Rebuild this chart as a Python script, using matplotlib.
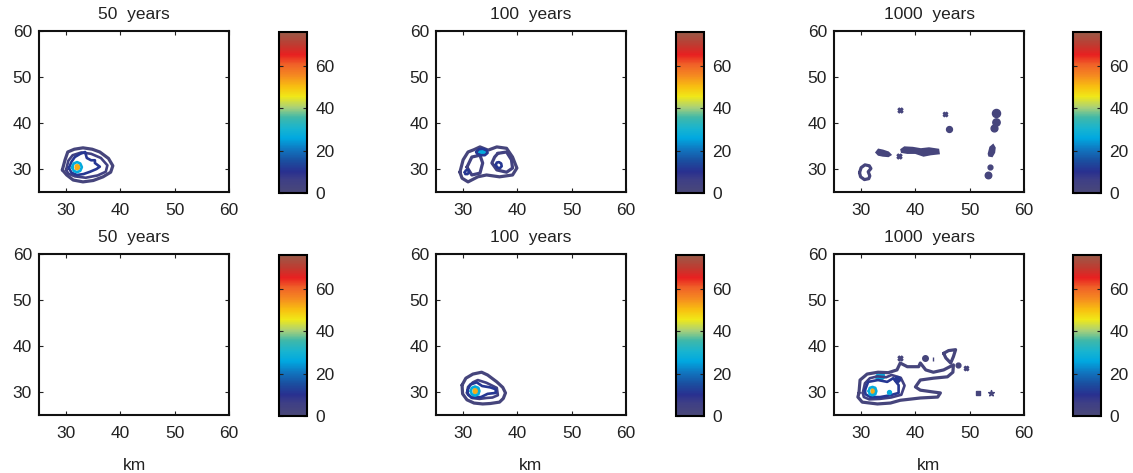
import numpy as np
import matplotlib
matplotlib.use("Agg")
import matplotlib.pyplot as plt
from matplotlib.colors import LinearSegmentedColormap, Normalize
from matplotlib.cm import ScalarMappable

plt.rcParams['font.family'] = ['Liberation Sans', 'DejaVu Sans']

# ---- data -------------------------------------------------------------------
titles = ["50  years", "100  years", "1000  years",
          "50  years", "100  years", "1000  years"]
axis_ticks = [30, 40, 50, 60]
cbar_ticks = [0, 20, 40, 60]
vmin, vmax = 0, 76

# contour lines: (level, x vertices, y vertices)  [km]
lines_top_50 = [
    (2, [29.3, 29.8, 30.3, 31.5, 33.1, 34.8, 36.2, 37.8, 38.6, 38.2, 36.8, 35.0, 33.1, 31.3, 30.1, 29.3],
        [29.8, 32.0, 33.7, 34.3, 34.6, 34.3, 33.7, 32.3, 30.7, 29.3, 28.3, 27.5, 27.2, 27.6, 28.7, 29.8]),
    (5, [30.0, 30.4, 31.2, 32.8, 34.6, 36.4, 37.6, 37.3, 35.8, 33.6, 31.6, 30.4, 30.0],
        [29.8, 31.8, 33.0, 33.6, 33.3, 32.4, 30.8, 29.4, 28.6, 28.1, 28.4, 29.0, 29.8]),
    (11, [30.5, 31.0, 31.6, 32.6, 33.5, 33.8, 34.6, 35.3, 35.3, 36.2, 35.6, 34.4, 33.2, 32.0, 31.0, 30.5],
         [30.2, 31.6, 32.6, 33.3, 33.7, 32.4, 31.9, 31.9, 31.3, 30.5, 30.0, 29.4, 28.9, 28.7, 29.2, 30.2]),
    (27, [31.1, 31.4, 32.0, 32.6, 32.9, 32.6, 32.0, 31.4, 31.1],
         [30.4, 31.2, 31.5, 31.2, 30.4, 29.6, 29.3, 29.6, 30.4]),
]
fills_top_50 = [
    (52, [31.7, 31.8, 32.1, 32.4, 32.4, 32.1, 31.8, 31.7],
         [30.4, 30.8, 30.9, 30.7, 30.2, 29.9, 30.0, 30.4]),
]
marks_top_50 = []

lines_top_100 = [
    (2, [29.4, 30.0, 30.9, 32.0, 33.1, 34.6, 36.2, 38.0, 39.1, 39.9, 39.1, 36.7, 34.3, 32.7, 30.9, 29.8, 29.4],
        [29.3, 32.0, 33.7, 34.2, 34.8, 34.1, 34.8, 34.5, 32.6, 30.2, 28.7, 28.3, 28.7, 28.3, 27.2, 28.0, 29.3]),
    (4, [36.4, 38.0, 38.9, 39.1, 38.0, 36.2, 35.3, 35.8, 36.4],
        [33.4, 33.7, 32.0, 30.2, 29.3, 29.8, 31.3, 32.6, 33.4]),
    (4, [30.7, 31.6, 33.1, 33.6, 33.1, 31.6, 30.7],
        [30.4, 32.6, 33.0, 31.3, 29.1, 28.7, 30.4]),
    (11, [36.0, 36.2, 36.6, 37.0, 37.1, 36.8, 36.3, 36.0],
         [30.9, 31.4, 31.5, 31.2, 30.6, 30.2, 30.3, 30.9]),
    (11, [30.3, 30.5, 30.9, 31.1, 30.8, 30.4, 30.3],
         [29.3, 29.7, 29.8, 29.3, 28.9, 28.9, 29.3]),
    (11, [32.4, 32.9, 33.6, 34.3, 34.5, 34.0, 33.2, 32.6, 32.4],
         [33.7, 34.3, 34.4, 34.1, 33.5, 33.0, 33.0, 33.3, 33.7]),
]
fills_top_100 = [
    (27, [32.6, 33.0, 33.6, 34.1, 34.2, 33.8, 33.1, 32.7, 32.6],
         [33.7, 34.1, 34.2, 34.0, 33.6, 33.2, 33.2, 33.4, 33.7]),
]
marks_top_100 = []

lines_top_1000 = [
    (2, [29.7, 30.0, 30.7, 31.5, 31.8, 31.3, 31.6, 31.4, 30.6, 29.9, 29.7],
        [29.2, 30.3, 30.9, 30.7, 30.1, 29.4, 28.5, 27.9, 27.7, 28.3, 29.2]),
]
fills_top_1000 = [
    (2, [32.8, 33.2, 34.0, 35.0, 35.4, 35.0, 34.0, 33.2, 32.8],
        [33.6, 34.2, 34.0, 33.6, 33.1, 32.8, 32.9, 33.1, 33.6]),
    (2, [37.4, 38.0, 39.5, 41.0, 42.5, 44.2, 44.3, 42.8, 41.5, 40.0, 38.5, 37.5, 37.4],
        [34.2, 34.7, 34.6, 34.3, 34.5, 34.2, 33.4, 33.2, 32.9, 33.5, 33.5, 33.7, 34.2]),
    (2, [53.5, 53.8, 54.3, 54.6, 54.5, 54.1, 53.6, 53.5],
        [33.3, 34.7, 35.2, 34.6, 33.6, 32.8, 32.9, 33.3]),
]
marks_top_1000 = [  # (x, y, level, marker, size)
    (37.2, 42.8, 2, 'X', 12), (45.4, 42.0, 2, 'X', 10), (46.1, 38.7, 2, 'o', 18),
    (36.9, 32.8, 2, 'X', 12), (53.7, 30.4, 2, 'o', 12), (53.3, 28.7, 2, 'o', 22),
    (54.8, 42.2, 2, 'o', 34), (54.8, 40.2, 2, 'o', 28), (54.4, 38.9, 2, 'o', 24),
]

lines_bottom_50 = []
fills_bottom_50 = []
marks_bottom_50 = []

lines_bottom_100 = [
    (2, [29.8, 30.5, 31.8, 33.4, 34.5, 36.2, 37.3, 37.8, 37.4, 36.7, 35.0, 33.6, 32.0, 30.7, 29.9, 29.8],
        [31.5, 33.0, 33.9, 34.3, 33.7, 32.2, 31.0, 29.8, 28.6, 27.8, 27.5, 27.4, 27.6, 28.3, 29.6, 31.5]),
    (5, [30.7, 30.9, 31.8, 32.7, 34.3, 36.2, 36.4, 35.4, 34.3, 33.0, 31.6, 30.7],
        [29.8, 31.1, 32.1, 32.6, 32.0, 30.9, 29.3, 28.8, 28.7, 28.5, 28.7, 29.8]),
    (11, [30.8, 31.3, 32.5, 33.5, 35.0, 36.0, 36.0, 34.5, 33.3, 31.6, 30.9, 30.8],
         [30.3, 31.6, 32.1, 31.3, 31.0, 30.6, 29.8, 29.6, 28.9, 28.8, 29.4, 30.3]),
    (27, [31.4, 31.6, 32.2, 32.8, 33.0, 32.8, 32.2, 31.6, 31.4],
         [30.2, 30.9, 31.2, 30.9, 30.2, 29.5, 29.2, 29.5, 30.2]),
]
fills_bottom_100 = [
    (52, [31.9, 32.0, 32.3, 32.6, 32.6, 32.3, 32.0, 31.9],
         [30.2, 30.6, 30.7, 30.5, 30.0, 29.7, 29.8, 30.2]),
]
marks_bottom_100 = []

lines_bottom_1000 = [
    (2, [29.6, 29.8, 31.1, 33.1, 35.0, 36.6, 37.2, 38.5, 40.6, 40.9, 41.9, 43.3, 45.2, 47.0, 46.9, 45.9,
         43.3, 40.9, 40.0, 40.9, 43.3, 44.6, 44.1, 40.9, 37.2, 35.4, 33.0, 30.2, 29.4, 29.6],
        [29.8, 32.6, 33.9, 34.3, 34.2, 34.8, 36.3, 35.5, 35.5, 36.3, 34.8, 34.3, 34.8, 35.9, 34.3, 33.3,
         33.0, 32.6, 31.1, 30.4, 30.0, 29.8, 28.9, 28.7, 28.2, 27.6, 27.4, 27.8, 28.9, 29.8]),
    (2, [45.2, 46.1, 47.4, 47.0, 46.5, 45.6, 45.2],
        [38.4, 39.0, 39.2, 37.7, 36.3, 37.4, 38.4]),
    (5, [30.3, 30.7, 31.6, 33.0, 34.6, 35.6, 37.3, 38.0, 37.4, 35.5, 33.4, 31.5, 30.5, 30.3],
        [29.8, 31.9, 33.0, 33.4, 33.2, 33.7, 33.1, 31.4, 29.4, 28.8, 28.5, 28.4, 28.9, 29.8]),
    (11, [30.7, 31.3, 33.1, 34.8, 35.9, 36.9, 36.9, 35.4, 33.5, 31.7, 30.8, 30.7],
         [30.4, 32.2, 32.6, 32.2, 33.0, 31.5, 29.8, 29.3, 28.9, 28.9, 29.5, 30.4]),
    (27, [31.4, 31.6, 32.1, 32.6, 32.8, 32.6, 32.1, 31.6, 31.4],
         [30.2, 30.9, 31.1, 30.9, 30.2, 29.5, 29.3, 29.5, 30.2]),
]
fills_bottom_1000 = [
    (27, [32.7, 33.0, 33.6, 34.2, 34.3, 33.9, 33.2, 32.8, 32.7],
         [33.3, 33.8, 33.9, 33.7, 33.2, 32.8, 32.8, 33.0, 33.3]),
    (52, [31.9, 32.0, 32.3, 32.6, 32.6, 32.3, 32.0, 31.9],
         [30.2, 30.6, 30.7, 30.5, 30.0, 29.7, 29.8, 30.2]),
]
marks_bottom_1000 = [
    (37.2, 37.3, 2, 'X', 12), (41.8, 37.3, 2, 'o', 16), (43.3, 37.1, 2, '|', 12),
    (36.6, 32.8, 11, 'o', 18), (35.2, 30.0, 27, 'o', 8), (47.8, 35.9, 2, 'o', 12),
    (49.3, 35.2, 2, 'X', 10), (51.5, 29.8, 2, 's', 6), (53.9, 29.8, 2, '*', 18),
]

panels = [
    (lines_top_50, fills_top_50, marks_top_50),
    (lines_top_100, fills_top_100, marks_top_100),
    (lines_top_1000, fills_top_1000, marks_top_1000),
    (lines_bottom_50, fills_bottom_50, marks_bottom_50),
    (lines_bottom_100, fills_bottom_100, marks_bottom_100),
    (lines_bottom_1000, fills_bottom_1000, marks_bottom_1000),
]

# ---- colour map (jet-like with muted ends) ----------------------------------
cmap = LinearSegmentedColormap.from_list("muted_jet", [
    (0.00, "#4a4878"), (0.08, "#3e3f86"), (0.13, "#29308f"), (0.20, "#1a4fa0"),
    (0.27, "#1076c0"), (0.34, "#00a8e0"), (0.40, "#18b4d0"), (0.47, "#40b8a8"),
    (0.53, "#a8d07a"), (0.60, "#f0e818"), (0.66, "#f8c010"), (0.73, "#f58a20"),
    (0.80, "#f06028"), (0.86, "#e82020"), (0.92, "#c03a30"), (1.00, "#9a5a48"),
])
norm = Normalize(vmin=vmin, vmax=vmax)

# ---- layout (pixels) --------------------------------------------------------
W, H = 1133, 473
fig = plt.figure(figsize=(W / 100, H / 100), dpi=100, facecolor='white')

ax_lefts = [39, 436, 834]
cb_lefts = [279, 676, 1073]
row_tops = [31, 254]
ax_w, ax_h, cb_w = 190, 161, 28
fs = 12.5

def frac(left, top, w, h):
    return [left / W, (H - top - h) / H, w / W, h / H]

for i, (lines, fills, marks) in enumerate(panels):
    r, c = divmod(i, 3)
    ax = fig.add_axes(frac(ax_lefts[c], row_tops[r], ax_w, ax_h))
    for lev, xs, ys in lines:
        ax.plot(xs, ys, color=cmap(norm(lev)), lw=2.3 if lev < 5 else 1.9,
                solid_joinstyle='round', solid_capstyle='round')
    for lev, xs, ys in fills:
        ax.fill(xs, ys, color=cmap(norm(lev)), lw=1.5, ec=cmap(norm(lev)))
    for x, y, lev, mk, sz in marks:
        ax.scatter([x], [y], s=sz, marker=mk, color=cmap(norm(lev)),
                   linewidths=1.0, zorder=3)

    ax.set_xlim(25, 60)
    ax.set_ylim(25, 60)
    ax.set_xticks(axis_ticks)
    ax.set_yticks(axis_ticks)
    ax.tick_params(direction='in', length=3, width=0.8, top=True, right=True,
                   labelsize=fs, colors='#222222', pad=5)
    ax.tick_params(axis='x', pad=8)
    for sp in ax.spines.values():
        sp.set_linewidth(1.5)
        sp.set_color('#111111')
    ax.set_title(titles[i], fontsize=fs, color='#222222', pad=9)
    if r == 1:
        ax.set_xlabel("km", fontsize=fs, color='#222222', labelpad=12)

    cax = fig.add_axes(frac(cb_lefts[c], row_tops[r] + 1, cb_w, ax_h))
    cb = fig.colorbar(ScalarMappable(norm=norm, cmap=cmap), cax=cax)
    cb.set_ticks(cbar_ticks)
    cb.outline.set_linewidth(1.5)
    cax.tick_params(direction='in', length=3, width=0.8, left=True, right=True,
                    labelsize=fs, colors='#222222', pad=6)

fig.savefig("out.png", dpi=100, facecolor='white')
